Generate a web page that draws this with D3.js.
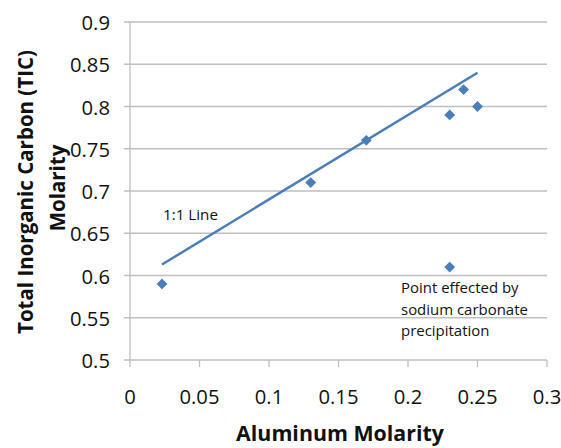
<!DOCTYPE html>
<html>
<head>
<meta charset="utf-8">
<script src="https://cdn.jsdelivr.net/npm/d3@7"></script>
<style>
  html, body { margin: 0; padding: 0; background: #fff; }
  svg { display: block; }
  text { font-family: "Open Sans", Lato, sans-serif; fill: #111; }
</style>
</head>
<body>
<svg id="chart" width="561" height="448"></svg>
<script>
// Data
const xValues = [0.023, 0.13, 0.17, 0.23, 0.24, 0.25, 0.23];
const yValues = [0.59, 0.71, 0.76, 0.79, 0.82, 0.80, 0.61];
const lineX = [0.023, 0.25];
const lineY = [0.613, 0.84];
const xTicks = [0, 0.05, 0.1, 0.15, 0.2, 0.25, 0.3];
const yTicks = [0.5, 0.55, 0.6, 0.65, 0.7, 0.75, 0.8, 0.85, 0.9];
const xTitle = "Aluminum Molarity";
const yTitle = ["Total Inorganic Carbon (TIC)", "Molarity"];
const lineLabel = "1:1 Line";
const noteLines = ["Point effected by", "sodium carbonate", "precipitation"];

const svg = d3.select("#chart");
const x = d3.scaleLinear().domain([0, 0.3]).range([130, 547]);
const y = d3.scaleLinear().domain([0.5, 0.9]).range([360, 22]);
const color = "#4a7ebb";
const gridColor = "#bfbfbf";

// scale font so a reference string reaches the measured width
function fitSize(str, weight, target) {
  const t = svg.append("text").attr("font-size", 100).attr("font-weight", weight).text(str);
  const w = t.node().getComputedTextLength();
  t.remove();
  return 100 * target / w;
}
const tickSize = fitSize("0.85", "normal", 40);
const titleSize = fitSize(xTitle, "bold", 208);
const yTitleSize = fitSize(yTitle[0], "bold", 284);
const lineLabelSize = fitSize(lineLabel, "normal", 55);
const noteSize = fitSize(noteLines[1], "normal", 127);

// horizontal gridlines
svg.append("g").selectAll("line").data(yTicks).join("line")
  .attr("x1", x(0) - 6).attr("x2", x(0.3))
  .attr("y1", d => y(d)).attr("y2", d => y(d))
  .attr("stroke", gridColor).attr("stroke-width", 1.3);

// y axis line
svg.append("line")
  .attr("x1", x(0)).attr("x2", x(0))
  .attr("y1", y(0.9)).attr("y2", y(0.5) + 7)
  .attr("stroke", gridColor).attr("stroke-width", 1.3);

// x ticks
svg.append("g").selectAll("line").data(xTicks.slice(1)).join("line")
  .attr("x1", d => x(d)).attr("x2", d => x(d))
  .attr("y1", y(0.5)).attr("y2", y(0.5) + 7)
  .attr("stroke", gridColor).attr("stroke-width", 1.3);

// y tick labels
svg.append("g").selectAll("text").data(yTicks).join("text")
  .attr("x", 110).attr("y", d => y(d))
  .attr("text-anchor", "end").attr("dominant-baseline", "central")
  .attr("font-size", tickSize)
  .text(d => d3.format("")(d));

// x tick labels
svg.append("g").selectAll("text").data(xTicks).join("text")
  .attr("x", d => x(d)).attr("y", 396)
  .attr("text-anchor", "middle").attr("dominant-baseline", "central")
  .attr("font-size", tickSize)
  .text(d => d3.format("")(d));

// x title
svg.append("text")
  .attr("x", 340).attr("y", 441)
  .attr("text-anchor", "middle")
  .attr("font-size", titleSize).attr("font-weight", "bold")
  .text(xTitle);

// y title
svg.append("text")
  .attr("transform", "translate(25,192) rotate(-90)")
  .attr("text-anchor", "middle").attr("dominant-baseline", "central")
  .attr("font-size", yTitleSize).attr("font-weight", "bold")
  .text(yTitle[0]);
svg.append("text")
  .attr("transform", "translate(57,188) rotate(-90)")
  .attr("text-anchor", "middle").attr("dominant-baseline", "central")
  .attr("font-size", yTitleSize).attr("font-weight", "bold")
  .text(yTitle[1]);

// 1:1 line
const lineData = lineX.map((d, i) => [d, lineY[i]]);
svg.append("path")
  .attr("d", d3.line().x(d => x(d[0])).y(d => y(d[1]))(lineData))
  .attr("fill", "none").attr("stroke", color).attr("stroke-width", 2.5);

// points
const pts = xValues.map((d, i) => [d, yValues[i]]);
svg.append("g").selectAll("path").data(pts).join("path")
  .attr("transform", d => `translate(${x(d[0])},${y(d[1])})`)
  .attr("d", d3.symbol(d3.symbolDiamond2, 75)())
  .attr("fill", color);

// labels
svg.append("text")
  .attr("x", 163).attr("y", 214)
  .attr("dominant-baseline", "central")
  .attr("font-size", lineLabelSize)
  .text(lineLabel);

const note = svg.append("text").attr("font-size", noteSize);
note.selectAll("tspan").data(noteLines).join("tspan")
  .attr("x", 401).attr("y", (d, i) => 287 + i * 21.5)
  .attr("dominant-baseline", "central")
  .text(d => d);
</script>
</body>
</html>
